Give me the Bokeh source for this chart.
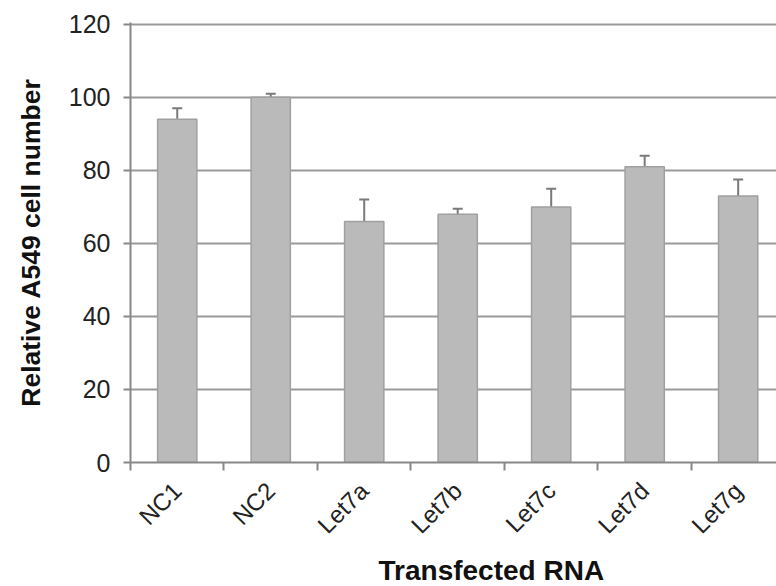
from bokeh.plotting import figure
from bokeh.models import (ColumnDataSource, FixedTicker, Range1d, Whisker, TeeHead, Title)
from bokeh.embed import file_html
from bokeh.resources import INLINE

categories = ["NC1", "NC2", "Let7a", "Let7b", "Let7c", "Let7d", "Let7g"]
values = [94, 100, 66, 68, 70, 81, 73]
err_upper = [97, 101, 72, 69.5, 75, 84, 77.5]
y_ticks = [0, 20, 40, 60, 80, 100, 120]

xs = [i + 0.5 for i in range(len(categories))]
source = ColumnDataSource(dict(x=xs, top=values, upper=err_upper, cat=categories))

FONT = "Liberation Sans"

p = figure(width=776, height=586, x_range=Range1d(0, 6.91), y_range=Range1d(0, 120.5),
           output_backend="svg", toolbar_location=None,
           min_border_left=130, min_border_right=0, min_border_top=22, min_border_bottom=2)
p.outline_line_color = None
p.background_fill_color = "white"
p.border_fill_color = "white"

p.vbar(x="x", top="top", width=0.42, bottom=0, source=source,
       fill_color="#bababa", line_color="#a0a0a0", line_width=1.5)

p.add_layout(Whisker(base="x", upper="upper", lower="top", source=source,
                     line_color="#7a7a7a", line_width=2,
                     upper_head=TeeHead(size=10, line_color="#7a7a7a", line_width=2),
                     lower_head=None))

# grid
p.xgrid.grid_line_color = None
p.ygrid.grid_line_color = "#9a9a9a"
p.ygrid.grid_line_width = 2
p.ygrid.ticker = FixedTicker(ticks=y_ticks)

# y axis
p.yaxis.ticker = FixedTicker(ticks=y_ticks)
p.yaxis.axis_line_color = "#888888"
p.yaxis.axis_line_width = 2
p.yaxis.major_tick_line_color = "#888888"
p.yaxis.major_tick_line_width = 2
p.yaxis.major_tick_out = 7
p.yaxis.major_tick_in = 0
p.yaxis.minor_tick_line_color = None
p.yaxis.major_label_standoff = 13
p.yaxis.major_label_text_font = FONT
p.yaxis.major_label_text_font_size = "25px"
p.yaxis.major_label_text_color = "#222222"
p.yaxis.axis_label = "Relative A549 cell number"
p.yaxis.axis_label_text_font = FONT
p.yaxis.axis_label_text_font_size = "26.5px"
p.yaxis.axis_label_text_font_style = "bold"
p.yaxis.axis_label_text_color = "#111111"
p.yaxis.axis_label_standoff = 20

# x axis
p.xaxis.ticker = FixedTicker(ticks=xs, minor_ticks=list(range(len(categories) + 1)))
p.xaxis.major_label_overrides = {x: c for x, c in zip(xs, categories)}
p.xaxis.major_label_orientation = 0.785398
p.xaxis.axis_line_color = "#888888"
p.xaxis.axis_line_width = 2
p.xaxis.major_tick_line_color = None
p.xaxis.minor_tick_line_color = "#888888"
p.xaxis.minor_tick_line_width = 2
p.xaxis.minor_tick_out = 8
p.xaxis.minor_tick_in = 0
p.xaxis.major_label_standoff = 16
p.xaxis.major_label_text_font = FONT
p.xaxis.major_label_text_font_size = "24px"
p.xaxis.major_label_text_color = "#222222"

p.add_layout(Title(text="Transfected RNA", align="left", offset=248, standoff=2,
                   text_font=FONT, text_font_size="28px", text_font_style="bold",
                   text_color="#111111"), "below")

open("out.html", "w").write(file_html(p, INLINE))
